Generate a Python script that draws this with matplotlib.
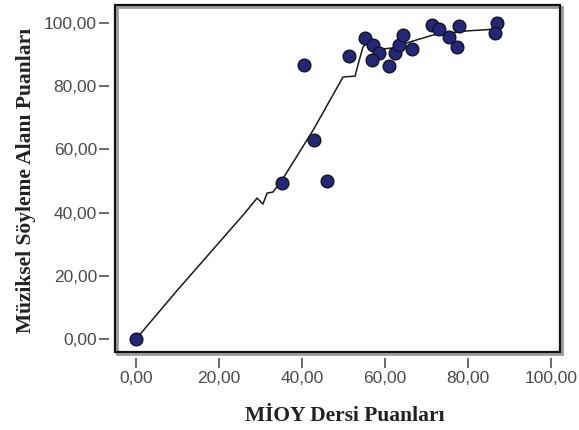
import matplotlib
matplotlib.use("Agg")
import matplotlib.pyplot as plt
import matplotlib.transforms as mtransforms
from matplotlib.patches import Rectangle
from matplotlib.ticker import FuncFormatter

# okunan noktalar (MİOY, Müziksel Söyleme)
mioy = [0.0, 35.2, 46.0, 42.9, 40.5, 51.3, 55.2, 57.1, 58.6, 56.9, 61.0,
        62.4, 63.4, 64.3, 66.5, 71.3, 73.0, 75.4, 77.3, 77.8, 87.0, 86.5]
soyleme = [0.0, 49.4, 50.0, 63.0, 86.7, 89.6, 95.3, 93.0, 90.5, 88.3, 86.4,
           90.5, 93.0, 96.2, 91.8, 99.4, 98.1, 95.6, 92.4, 99.1, 100.0, 96.8]

# loess egrisi
fit_x = [0.2, 10.0, 20.0, 26.0, 29.2, 30.6, 31.6, 33.0, 35.2, 42.7, 49.9,
         52.8, 53.5, 54.7, 55.7, 57.1, 59.5, 61.9, 65.3, 71.6, 75.7, 79.8, 87.2]
fit_y = [0.3, 15.5, 30.5, 39.5, 44.6, 42.7, 46.2, 46.5, 50.3, 66.1, 82.9,
         83.2, 86.7, 92.4, 93.7, 92.4, 91.8, 92.1, 93.7, 96.2, 96.8, 97.5, 98.1]

ticks = [0, 20, 40, 60, 80, 100]

fig = plt.figure(figsize=(5.79, 4.30), dpi=100)
ax = fig.add_axes([0.1986, 0.1814, 0.7686, 0.8070])

ax.plot(fit_x, fit_y, color='#1a1a1a', lw=1.1, zorder=2)
ax.scatter(mioy, soyleme, s=85, color='#22277a', edgecolors='#111111',
           linewidths=0.9, zorder=3)

ax.set_xlim(-5.06, 102.2)
ax.set_ylim(-4.1, 105.7)
ax.set_xticks(ticks)
ax.set_yticks(ticks)
fmt = FuncFormatter(lambda v, p: f"{v:.2f}".replace('.', ','))
ax.xaxis.set_major_formatter(fmt)
ax.yaxis.set_major_formatter(fmt)

# cerceve ve golgesi
for s in ax.spines.values():
    s.set_visible(False)
ax.spines['left'].set_position(('outward', 4))
ax.spines['bottom'].set_position(('outward', 4.5))
shadow = mtransforms.offset_copy(ax.transAxes, fig, x=2, y=-2, units='dots')
ax.add_patch(Rectangle((0, 0), 1, 1, transform=shadow, fill=False,
                       edgecolor='#9a9a9a', lw=2.0, clip_on=False, zorder=0))
ax.add_patch(Rectangle((0, 0), 1, 1, transform=ax.transAxes, fill=False,
                       edgecolor='#111111', lw=1.6, clip_on=False, zorder=5))

ax.tick_params(direction='out', length=7, width=1.1, color='#444444',
               labelsize=12.5, labelcolor='#4a4a4a', pad=2)
for lab in ax.get_xticklabels() + ax.get_yticklabels():
    lab.set_family('Liberation Sans')

ax.set_xlabel('MİOY Dersi Puanları', family='Liberation Serif',
              fontweight='bold', fontsize=15.5, color='#222222')
ax.set_ylabel('Müziksel Söyleme Alanı Puanları', family='Liberation Serif',
              fontweight='bold', fontsize=15.5, color='#222222')
ax.xaxis.set_label_coords(0.517, -0.157)
ax.yaxis.set_label_coords(-0.178, 0.496)

fig.savefig('out.png', dpi=100)
